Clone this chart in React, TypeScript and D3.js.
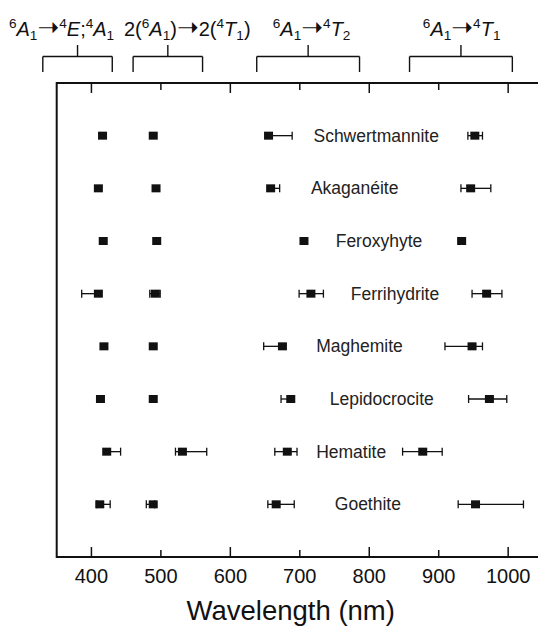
import React from 'react';
import * as d3 from 'd3';

// ---- data ----
const minerals = ['Schwertmannite', 'Akaganéite', 'Feroxyhyte', 'Ferrihydrite', 'Maghemite', 'Lepidocrocite', 'Hematite', 'Goethite'];
const labelPos = [810, 779, 814, 837, 786, 818, 774, 798];

// band 1: 6A1 -> 4E;4A1
const band1 = [416, 410, 417, 410, 418, 413, 422, 412];
const band1Lo = [416, 410, 417, 386, 418, 413, 422, 408];
const band1Hi = [416, 410, 417, 410, 418, 413, 442, 427];
// band 2: 2(6A1) -> 2(4T1)
const band2 = [489, 493, 494, 492, 489, 489, 531, 489];
const band2Lo = [489, 493, 494, 484, 489, 489, 521, 479];
const band2Hi = [489, 493, 494, 499, 489, 489, 566, 491];
// band 3: 6A1 -> 4T2
const band3 = [655, 658, 706, 716, 675, 687, 682, 666];
const band3Lo = [655, 658, 706, 699, 648, 673, 664, 654];
const band3Hi = [689, 671, 706, 734, 675, 687, 696, 692];
// band 4: 6A1 -> 4T1
const band4 = [952, 946, 933, 969, 948, 973, 877, 953];
const band4Lo = [942, 932, 933, 948, 909, 943, 848, 928];
const band4Hi = [963, 975, 933, 991, 963, 998, 905, 1022];

const xTicks = [400, 500, 600, 700, 800, 900, 1000];

const bracketLo = [330, 460, 638, 858];
const bracketHi = [430, 560, 786, 1006];
const bracketLabelPos = [357, 538, 717, 933];
type Part = { t: string; k: 'n' | 'i' | 'sup' | 'sub' | 'arrow' };
const bracketLabels: Part[][] = [
  [{ t: '6', k: 'sup' }, { t: 'A', k: 'i' }, { t: '1', k: 'sub' }, { t: '➝', k: 'arrow' }, { t: '4', k: 'sup' }, { t: 'E', k: 'i' }, { t: ';', k: 'n' }, { t: '4', k: 'sup' }, { t: 'A', k: 'i' }, { t: '1', k: 'sub' }],
  [{ t: '2(', k: 'n' }, { t: '6', k: 'sup' }, { t: 'A', k: 'i' }, { t: '1', k: 'sub' }, { t: ')', k: 'n' }, { t: '➝', k: 'arrow' }, { t: '2(', k: 'n' }, { t: '4', k: 'sup' }, { t: 'T', k: 'i' }, { t: '1', k: 'sub' }, { t: ')', k: 'n' }],
  [{ t: '6', k: 'sup' }, { t: 'A', k: 'i' }, { t: '1', k: 'sub' }, { t: '➝', k: 'arrow' }, { t: '4', k: 'sup' }, { t: 'T', k: 'i' }, { t: '2', k: 'sub' }],
  [{ t: '6', k: 'sup' }, { t: 'A', k: 'i' }, { t: '1', k: 'sub' }, { t: '➝', k: 'arrow' }, { t: '4', k: 'sup' }, { t: 'T', k: 'i' }, { t: '1', k: 'sub' }],
];

const W = 538;
const H = 626;
const FONT = "'Liberation Sans', Arial, Helvetica, sans-serif";

function Label({ parts, x, y, size }: { parts: Part[]; x: number; y: number; size: number }) {
  let off = 0;
  return (
    <text x={x} y={y} textAnchor="middle" fontFamily={FONT} fontSize={size} fill="#111">
      {parts.map((p, i) => {
        let target = 0;
        let fs = size;
        if (p.k === 'sup') { target = -size * 0.42; fs = size * 0.68; }
        if (p.k === 'sub') { target = size * 0.2; fs = size * 0.68; }
        if (p.k === 'arrow') { target = size * 0.02; fs = size * 1.3; }
        const dy = target - off;
        off = target;
        return (
          <tspan key={i} dy={dy} fontSize={fs} fontStyle={p.k === 'i' ? 'italic' : 'normal'}
            fontFamily={p.k === 'arrow' ? "'DejaVu Sans', sans-serif" : FONT}>
            {p.t}
          </tspan>
        );
      })}
    </text>
  );
}

export default function App() {
  const x = d3.scaleLinear().domain([350, 1050]).range([56.7, 542.9]);
  const y = d3.scaleLinear().domain([0, 9]).range([83, 557]);
  const bands = [
    { c: band1, lo: band1Lo, hi: band1Hi },
    { c: band2, lo: band2Lo, hi: band2Hi },
    { c: band3, lo: band3Lo, hi: band3Hi },
    { c: band4, lo: band4Lo, hi: band4Hi },
  ];
  const x0 = x(350);
  const yTop = y(0);
  const yBot = y(9);
  const bh = 56.5;
  return (
    <svg width={W} height={H} style={{ position: 'absolute', left: 0, top: 0, background: '#fff' }}>
      <rect width={W} height={H} fill="#fff" />
      {/* frame */}
      <g stroke="#111" strokeWidth={2} fill="none">
        <line x1={x0} x2={W + 5} y1={yTop} y2={yTop} />
        <line x1={x0} x2={W + 5} y1={yBot} y2={yBot} />
        <line x1={x0} x2={x0} y1={yTop - 1} y2={yBot + 1} />
      </g>
      {/* ticks */}
      <g stroke="#111" strokeWidth={1.5}>
        {xTicks.map((t) => {
          const len = t % 200 === 0 ? 10 : 7;
          return (
            <g key={t}>
              <line x1={x(t)} x2={x(t)} y1={yBot} y2={yBot - len} />
              <line x1={x(t)} x2={x(t)} y1={yTop} y2={yTop + len} />
            </g>
          );
        })}
      </g>
      <g fontFamily={FONT} fontSize={20} fill="#111" textAnchor="middle">
        {xTicks.map((t) => (
          <text key={t} x={x(t)} y={582.5}>{t}</text>
        ))}
      </g>
      <text x={x(687)} y={620} textAnchor="middle" fontFamily={FONT} fontSize={27.5} fill="#111">
        Wavelength (nm)
      </text>
      {/* brackets */}
      <g stroke="#111" strokeWidth={1.4} fill="none">
        {bracketLo.map((lo, i) => {
          const hi = bracketHi[i];
          const m = (lo + hi) / 2;
          return (
            <g key={i}>
              <line x1={x(lo)} x2={x(hi)} y1={bh} y2={bh} />
              <line x1={x(lo)} x2={x(lo)} y1={bh} y2={72} />
              <line x1={x(hi)} x2={x(hi)} y1={bh} y2={72} />
              <line x1={x(m)} x2={x(m)} y1={bh} y2={45} />
            </g>
          );
        })}
      </g>
      {bracketLabels.map((parts, i) => (
        <Label key={i} parts={parts} x={x(bracketLabelPos[i])} y={36} size={20} />
      ))}
      {/* data */}
      {minerals.map((m, r) => {
        const yy = y(r + 1);
        return (
          <g key={m}>
            {bands.map((b, bi) => {
              const c = b.c[r];
              const lo = b.lo[r];
              const hi = b.hi[r];
              return (
                <g key={bi}>
                  {(lo < c || hi > c) && (
                    <g stroke="#111" strokeWidth={1.3}>
                      <line x1={x(lo)} x2={x(hi)} y1={yy} y2={yy} />
                      {lo < c && <line x1={x(lo)} x2={x(lo)} y1={yy - 4} y2={yy + 4} />}
                      {hi > c && <line x1={x(hi)} x2={x(hi)} y1={yy - 4} y2={yy + 4} />}
                    </g>
                  )}
                  <rect x={x(c) - 4.5} y={yy - 4} width={9} height={8} fill="#111" />
                </g>
              );
            })}
            <text x={x(labelPos[r])} y={yy + 6} textAnchor="middle" fontFamily={FONT} fontSize={17.5} fill="#222">
              {m}
            </text>
          </g>
        );
      })}
    </svg>
  );
}
